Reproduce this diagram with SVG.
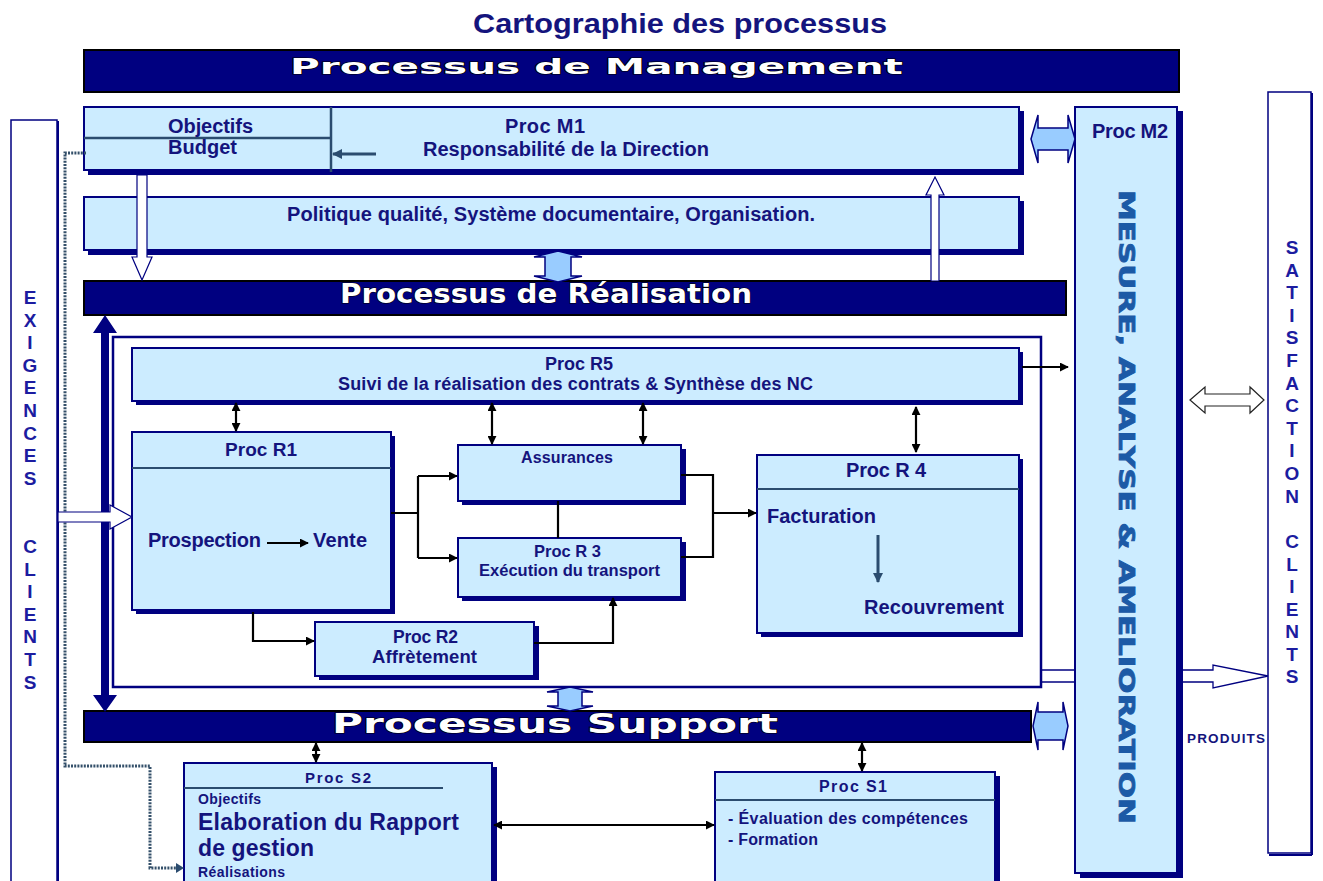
<svg xmlns="http://www.w3.org/2000/svg" width="1323" height="881" viewBox="0 0 1323 881">
<style>
.box{fill:#CCECFF;stroke:#000080;stroke-width:2}
.sh{fill:#000080}
.band{fill:#000080;stroke:#000;stroke-width:2}
.t{font-family:"Liberation Sans",Arial,sans-serif;font-weight:bold;fill:#14147d}
.bt{font-family:"DejaVu Sans",Verdana,sans-serif;font-weight:bold;fill:#fff;stroke:#000;stroke-width:1.2;paint-order:stroke}
.lt{font-family:"Liberation Sans",Arial,sans-serif;font-weight:bold;font-size:19px;fill:#1c1ca0;text-anchor:middle}
.cn{stroke:#000;stroke-width:2.2;fill:none}
.sl{stroke:#2b4c6f;stroke-width:3;fill:none}
.hol{fill:#fff;stroke:#000080;stroke-width:1.2}
.blu{fill:#99CCFF;stroke:#000080;stroke-width:1.5}
</style>
<defs>
<marker id="ab" viewBox="0 0 10 10" refX="9" refY="5" markerWidth="9" markerHeight="9" markerUnits="userSpaceOnUse" orient="auto-start-reverse"><path d="M0,0 L10,5 L0,10 z" fill="#000"/></marker>
<marker id="as" viewBox="0 0 10 10" refX="9" refY="5" markerWidth="10" markerHeight="10" markerUnits="userSpaceOnUse" orient="auto-start-reverse"><path d="M0,0 L10,5 L0,10 z" fill="#2b4c6f"/></marker>
</defs>

<text class="t" x="473" y="33" font-size="28" textLength="414" lengthAdjust="spacingAndGlyphs" fill="#14147d">Cartographie  des processus</text>

<g id="exigences">
<rect x="11" y="120" width="46" height="780" fill="#fff" stroke="#000080" stroke-width="1.5"/>
<line x1="58" y1="121" x2="58" y2="881" stroke="#000080" stroke-width="2"/>
<text class="lt" x="30" y="304">E</text><text class="lt" x="30" y="327">X</text><text class="lt" x="30" y="349">I</text><text class="lt" x="30" y="372">G</text><text class="lt" x="30" y="394">E</text><text class="lt" x="30" y="417">N</text><text class="lt" x="30" y="440">C</text><text class="lt" x="30" y="462">E</text><text class="lt" x="30" y="485">S</text>
<text class="lt" x="30" y="553">C</text><text class="lt" x="30" y="576">L</text><text class="lt" x="30" y="598">I</text><text class="lt" x="30" y="621">E</text><text class="lt" x="30" y="643">N</text><text class="lt" x="30" y="666">T</text><text class="lt" x="30" y="689">S</text>
</g>
<g id="satisfaction">
<rect x="1268" y="92" width="43" height="761" fill="#fff" stroke="#000080" stroke-width="1.5"/>
<line x1="1312" y1="93" x2="1312" y2="855" stroke="#000080" stroke-width="2"/>
<line x1="1269" y1="855" x2="1312" y2="855" stroke="#000080" stroke-width="2"/>
<text class="lt" x="1292" y="254">S</text><text class="lt" x="1292" y="277">A</text><text class="lt" x="1292" y="299">T</text><text class="lt" x="1292" y="322">I</text><text class="lt" x="1292" y="344">S</text><text class="lt" x="1292" y="367">F</text><text class="lt" x="1292" y="390">A</text><text class="lt" x="1292" y="412">C</text><text class="lt" x="1292" y="435">T</text><text class="lt" x="1292" y="457">I</text><text class="lt" x="1292" y="480">O</text><text class="lt" x="1292" y="503">N</text>
<text class="lt" x="1292" y="548">C</text><text class="lt" x="1292" y="571">L</text><text class="lt" x="1292" y="593">I</text><text class="lt" x="1292" y="616">E</text><text class="lt" x="1292" y="638">N</text><text class="lt" x="1292" y="661">T</text><text class="lt" x="1292" y="683">S</text>
</g>

<g id="band-management">
<rect class="band" x="84" y="50" width="1095" height="42"/>
<text class="bt" x="290" y="74" font-size="21" textLength="613" lengthAdjust="spacingAndGlyphs">Processus de Management</text>
</g>

<g id="procM1">
<rect class="sh" x="88" y="111" width="936" height="64"/>
<rect class="box" x="84" y="107" width="935" height="63"/>
<line x1="331" y1="107" x2="331" y2="172" stroke="#2b4c6f" stroke-width="2.5"/>
<line x1="84" y1="138" x2="331" y2="138" stroke="#2b4c6f" stroke-width="2.5"/>
<text class="t" x="168" y="133" font-size="20" textLength="85">Objectifs</text>
<text class="t" x="168" y="154" font-size="20" textLength="69">Budget</text>
<text class="t" x="505" y="133" font-size="20" textLength="80">Proc M1</text>
<text class="t" x="423" y="156" font-size="20" textLength="286">Responsabilité de la Direction</text>
</g>

<g id="politique">
<rect class="sh" x="88" y="201" width="936" height="54"/>
<rect class="box" x="84" y="197" width="935" height="53"/>
<text class="t" x="287" y="221" font-size="20" textLength="528">Politique qualité, Système documentaire, Organisation.</text>
</g>

<g id="procM2">
<rect class="sh" x="1080" y="111" width="103" height="767"/>
<rect class="box" x="1075" y="107" width="102" height="766"/>
<text class="t" x="1092" y="138" font-size="20" textLength="76">Proc M2</text>
<text transform="translate(1119,190) rotate(90)" font-family="DejaVu Sans, Verdana, sans-serif" font-weight="bold" font-size="22" fill="#1c5aa6" stroke="#1c5aa6" stroke-width="0.8" textLength="634" lengthAdjust="spacingAndGlyphs">MESURE, ANALYSE &amp; AMELIORATION</text>
</g>

<g id="band-realisation">
<rect class="band" x="84" y="281" width="982" height="34"/>
<text class="bt" x="340" y="303" font-size="26" textLength="412" lengthAdjust="spacingAndGlyphs">Processus de Réalisation</text>
</g>

<g id="realisation-frame">
<rect x="113" y="337" width="928" height="350" fill="#fff" stroke="#000080" stroke-width="2.5"/>
</g>

<g id="procR5">
<rect class="sh" x="136" y="352" width="887" height="53"/>
<rect class="box" x="132" y="348" width="887" height="53"/>
<text class="t" x="545" y="370" font-size="18" textLength="68">Proc R5</text>
<text class="t" x="338" y="390" font-size="18" textLength="475">Suivi de la réalisation des contrats &amp; Synthèse des NC</text>
</g>

<g id="procR1">
<rect class="sh" x="136" y="436" width="259" height="178"/>
<rect class="box" x="132" y="432" width="259" height="178"/>
<line x1="132" y1="468" x2="391" y2="468" stroke="#2b4c6f" stroke-width="2"/>
<text class="t" x="225" y="456" font-size="19" textLength="72">Proc R1</text>
<text class="t" x="148" y="547" font-size="20" textLength="113">Prospection</text>
<text class="t" x="313" y="547" font-size="20" textLength="54">Vente</text>
</g>

<g id="assurances">
<rect class="sh" x="462" y="449" width="224" height="56"/>
<rect class="box" x="458" y="445" width="223" height="56"/>
<text class="t" x="521" y="463" font-size="16" textLength="92">Assurances</text>
</g>

<g id="procR3">
<rect class="sh" x="462" y="542" width="224" height="59"/>
<rect class="box" x="458" y="538" width="223" height="59"/>
<text class="t" x="534" y="557" font-size="16.5" textLength="67">Proc R 3</text>
<text class="t" x="479" y="576" font-size="16.5" textLength="181">Exécution du transport</text>
</g>

<g id="procR4">
<rect class="sh" x="761" y="459" width="262" height="178"/>
<rect class="box" x="757" y="455" width="262" height="178"/>
<line x1="757" y1="489" x2="1019" y2="489" stroke="#2b4c6f" stroke-width="2"/>
<text class="t" x="846" y="477" font-size="20" textLength="80">Proc R 4</text>
<text class="t" x="767" y="523" font-size="20" textLength="109">Facturation</text>
<text class="t" x="864" y="614" font-size="20" textLength="140">Recouvrement</text>
</g>

<g id="procR2">
<rect class="sh" x="319" y="626" width="220" height="54"/>
<rect class="box" x="315" y="622" width="219" height="54"/>
<text class="t" x="393" y="643" font-size="17.5" textLength="65">Proc R2</text>
<text class="t" x="372" y="663" font-size="18.5" textLength="105">Affrètement</text>
</g>

<g id="band-support">
<rect class="band" x="84" y="711" width="947" height="31"/>
<text class="bt" x="332" y="733" font-size="26" textLength="446" lengthAdjust="spacingAndGlyphs">Processus  Support</text>
</g>

<g id="procS2">
<rect class="sh" x="188" y="767" width="309" height="130"/>
<rect class="box" x="184" y="763" width="308" height="130"/>
<line x1="184" y1="788" x2="443" y2="788" stroke="#2b4c6f" stroke-width="2"/>
<text class="t" x="305" y="783" font-size="15" textLength="66">Proc   S2</text>
<text class="t" x="198" y="804" font-size="14" textLength="63">Objectifs</text>
<text class="t" x="198" y="830" font-size="23" textLength="261">Elaboration du Rapport</text>
<text class="t" x="198" y="856" font-size="23" textLength="116">de gestion</text>
<text class="t" x="198" y="877" font-size="14" textLength="87">Réalisations</text>
</g>

<g id="procS1">
<rect class="sh" x="719" y="776" width="281" height="120"/>
<rect class="box" x="715" y="772" width="280" height="120"/>
<line x1="715" y1="800" x2="995" y2="800" stroke="#2b4c6f" stroke-width="2"/>
<text class="t" x="819" y="792" font-size="16" textLength="68">Proc  S1</text>
<text class="t" x="728" y="824" font-size="16" textLength="240">- Évaluation des compétences</text>
<text class="t" x="728" y="845" font-size="16" textLength="90">- Formation</text>
</g>

<text class="t" x="1187" y="743" font-size="13.5" textLength="78" fill="#14147d">PRODUITS</text>

<g id="connectors">
<path d="M86,153 H65 V766 H150 V868 H181" fill="none" stroke="#34506a" stroke-width="3" stroke-dasharray="2 1.2"/>
<path d="M176,863 L184,868 L176,873 z" fill="#2b4c6f"/>
<polygon class="hol" points="137,175 147,175 147,257 152,257 142,280 132,257 137,257"/>
<polygon class="hol" points="931,281 931,195 926,195 935,177 944,195 939,195 939,281"/>
<polygon class="blu" points="558,251 582,257 571,257 571,276 582,276 558,282 534,276 545,276 545,257 534,257"/>
<polygon class="blu" points="570,687 593,692 582,692 582,706 593,706 570,711 547,706 558,706 558,692 547,692"/>
<polygon class="blu" points="1031,139 1038,115 1038,128 1068,128 1068,115 1075,139 1068,163 1068,150 1038,150 1038,163"/>
<polygon class="blu" points="1033,726 1038,702 1038,712 1063,712 1063,702 1068,726 1063,750 1063,740 1038,740 1038,750"/>
<polygon points="105,315 117,333 109,333 109,695 117,695 105,712 93,695 101,695 101,333 93,333" fill="#000080"/>
<polygon class="hol" points="58,512 110,512 110,505 132,517 110,529 110,522 58,522"/>
<polygon points="1190,400 1205,387 1205,394 1250,394 1250,387 1264,400 1250,413 1250,406 1205,406 1205,413" fill="#fff" stroke="#222" stroke-width="1.2"/>
<line x1="1041" y1="670" x2="1075" y2="670" stroke="#000080" stroke-width="1.5"/>
<line x1="1041" y1="682" x2="1075" y2="682" stroke="#000080" stroke-width="1.5"/>
<path d="M1183,670 L1213,670 L1213,665 L1268,676 L1213,688 L1213,682 L1183,682" fill="#fff" stroke="#000080" stroke-width="1.3"/>
<line class="sl" x1="376" y1="154" x2="333" y2="154" marker-end="url(#as)"/>
<line class="sl" x1="878" y1="535" x2="878" y2="582" stroke-width="2.5" marker-end="url(#as)"/>
<line class="cn" x1="1022" y1="367" x2="1068" y2="367" marker-end="url(#ab)"/>
<line class="cn" x1="236" y1="403" x2="236" y2="431" marker-start="url(#ab)" marker-end="url(#ab)"/>
<line class="cn" x1="492" y1="403" x2="492" y2="444" marker-start="url(#ab)" marker-end="url(#ab)"/>
<line class="cn" x1="643" y1="403" x2="643" y2="444" marker-start="url(#ab)" marker-end="url(#ab)"/>
<line class="cn" x1="916" y1="407" x2="916" y2="452" marker-start="url(#ab)" marker-end="url(#ab)"/>
<line class="cn" x1="267" y1="543" x2="308" y2="543" stroke-width="3" marker-end="url(#ab)"/>
<path class="cn" d="M391,513 H418 M418,476 V558"/>
<line class="cn" x1="418" y1="476" x2="457" y2="476" marker-end="url(#ab)"/>
<line class="cn" x1="418" y1="558" x2="457" y2="558" marker-end="url(#ab)"/>
<path class="cn" d="M253,612 V641 H314" marker-end="url(#ab)"/>
<line class="cn" x1="558" y1="501" x2="558" y2="538"/>
<path class="cn" d="M681,475 H713 V557 H681"/>
<line class="cn" x1="713" y1="513" x2="756" y2="513" stroke-width="3.5" marker-end="url(#ab)"/>
<path class="cn" d="M534,643 H613 V598" marker-end="url(#ab)"/>
<line class="cn" x1="316" y1="743" x2="316" y2="762" marker-start="url(#ab)" marker-end="url(#ab)"/>
<line class="cn" x1="862" y1="743" x2="862" y2="771" marker-start="url(#ab)" marker-end="url(#ab)"/>
<line class="cn" x1="494" y1="825" x2="714" y2="825" marker-start="url(#ab)" marker-end="url(#ab)"/>
</g>
</svg>
